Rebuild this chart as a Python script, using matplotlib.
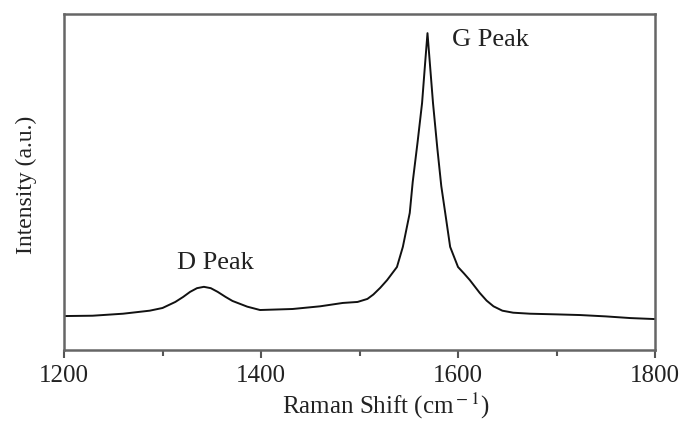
import numpy as np
import matplotlib.pyplot as plt
from matplotlib.ticker import MultipleLocator

# Raman spectrum
shift = [1200, 1229, 1260, 1287, 1300, 1313, 1321, 1328, 1335, 1342, 1349, 1356,
         1364, 1371, 1386, 1399, 1432, 1460, 1483, 1498, 1508, 1514, 1521, 1528,
         1538, 1544, 1551, 1554, 1559, 1563.5, 1566.5, 1569, 1571.5, 1574.6, 1579,
         1583, 1587, 1592, 1600, 1606, 1612, 1622, 1629, 1636, 1645, 1656, 1673,
         1700, 1724, 1750, 1775, 1800]
intensity = [0.101, 0.102, 0.108, 0.117, 0.125, 0.143, 0.158, 0.173, 0.184, 0.188,
             0.184, 0.173, 0.158, 0.146, 0.129, 0.119, 0.122, 0.130, 0.140, 0.143,
             0.152, 0.165, 0.185, 0.208, 0.247, 0.307, 0.408, 0.500, 0.620, 0.735,
             0.850, 0.943, 0.850, 0.735, 0.600, 0.488, 0.408, 0.307, 0.247, 0.228,
             0.208, 0.170, 0.147, 0.130, 0.117, 0.111, 0.108, 0.106, 0.104, 0.100,
             0.095, 0.092]

peak_labels = ['D Peak', 'G Peak']
peak_pos = [(1354, 0.259), (1633, 0.923)]

plt.rcParams['font.family'] = 'Liberation Serif'
plt.rcParams['mathtext.fontset'] = 'stix'
fig = plt.figure(figsize=(6.89, 4.23), dpi=100)
ax = fig.add_axes([0.0929, 0.1726, 0.8578, 0.7943])

ax.plot(shift, intensity, color='#111111', linewidth=1.4)

for lab, (x, y) in zip(peak_labels, peak_pos):
    ax.text(x, y, lab, ha='center', va='center', fontsize=19, color='#222222')

ax.set_xlim(1200, 1800)
ax.set_ylim(0, 1)
ax.xaxis.set_major_locator(MultipleLocator(200))
ax.xaxis.set_minor_locator(MultipleLocator(100))
ax.tick_params(axis='x', which='major', direction='out', length=6, width=1.5,
               color='#555555', labelsize=18, labelcolor='#222222', pad=5)
ax.tick_params(axis='x', which='minor', direction='out', length=4, width=1.5,
               color='#555555')
ax.tick_params(axis='y', left=False, labelleft=False)
for s in ax.spines.values():
    s.set_color('#666666')
    s.set_linewidth(1.8)

ax.set_xlabel('Raman Shift (cm$^{\\rm -1}$)', fontsize=18, color='#222222')
ax.xaxis.set_label_coords(0.545, -0.12)
ax.set_ylabel('Intensity (a.u.)', fontsize=17, color='#222222')
ax.yaxis.set_label_coords(-0.045, 0.49)

plt.savefig('out.png', dpi=100)
